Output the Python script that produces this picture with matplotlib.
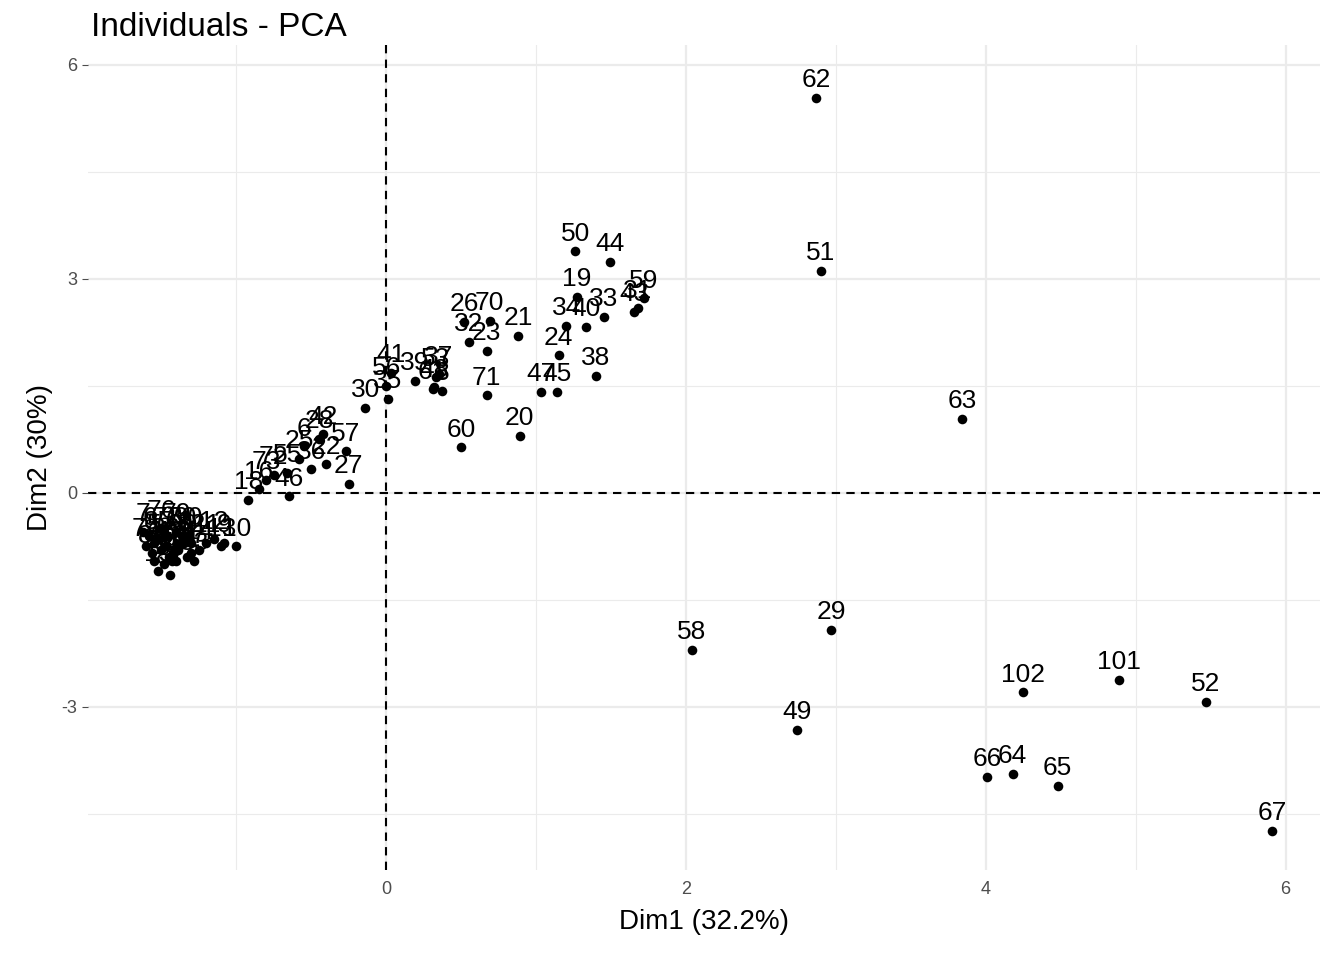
import matplotlib
matplotlib.use("Agg")
import matplotlib.pyplot as plt

plt.rcParams['font.family'] = ['Liberation Sans', 'DejaVu Sans']

labels = ["62","51","63","29","58","49","102","101","52","66","64","65","67",
          "50","44","19","59","33","43","31","34","40","21","26","70","32","23",
          "24","38","47","45","71","20","60","41","56","35","53","39","61","37","48","8",
          "30","42","28","57","27","22","36","6","25","73","72","16","18","46","55",
          "11","12","13","14","17","10","9","7","6","5","4","3","2","1","15","54","68","69",
          "74","75","76","77","78","79","80","81","82","83","84","85","86","87","88","89","90"]
dim1 = [2.87,2.90,3.84,2.97,2.04,2.74,4.25,4.89,5.47,4.01,4.18,4.48,5.91,
        1.26,1.49,1.27,1.72,1.45,1.65,1.68,1.20,1.33,0.88,0.52,0.69,0.55,0.67,
        1.15,1.40,1.03,1.14,0.67,0.89,0.50,0.03,0.00,0.01,0.33,0.19,0.31,0.35,0.32,0.37,
        -0.14,-0.42,-0.45,-0.27,-0.25,-0.40,-0.50,-0.55,-0.58,-0.80,-0.75,-0.85,-0.92,-0.65,-0.66,
        -1.20,-1.15,-1.10,-1.25,-1.30,-1.00,-1.08,-1.62,-1.58,-1.55,-1.50,-1.45,-1.40,-1.35,-1.52,-1.48,-1.42,-1.38,
        -1.60,-1.55,-1.50,-1.46,-1.43,-1.40,-1.36,-1.33,-1.30,-1.28,-1.56,-1.52,-1.47,-1.44,-1.39,-1.35,-1.32]
dim2 = [5.54,3.11,1.04,-1.92,-2.20,-3.32,-2.80,-2.62,-2.93,-3.98,-3.94,-4.11,-4.74,
        3.39,3.24,2.75,2.73,2.47,2.54,2.59,2.34,2.33,2.20,2.40,2.41,2.12,1.99,
        1.93,1.64,1.42,1.42,1.37,0.80,0.64,1.68,1.50,1.32,1.63,1.57,1.45,1.66,1.48,1.43,
        1.19,0.82,0.76,0.58,0.13,0.40,0.33,0.65,0.48,0.18,0.25,0.05,-0.10,-0.05,0.28,
        -0.70,-0.65,-0.75,-0.80,-0.85,-0.75,-0.70,-0.55,-0.60,-0.70,-0.80,-0.90,-0.95,-0.65,-1.10,-1.00,-0.85,-0.75,
        -0.75,-0.95,-0.50,-0.60,-0.95,-0.55,-0.60,-0.90,-0.70,-0.95,-0.85,-0.65,-0.75,-1.15,-0.80,-0.70,-0.60]

fig = plt.figure(figsize=(13.44,9.6), dpi=100)
ax = fig.add_axes([88/1344, 1-870/960, (1320-88)/1344, (870-45)/960])
ax.set_xlim(-1.99, 6.23)
ax.set_ylim(-5.29, 6.28)
for v in [-1,1,3,5]:
    ax.axvline(v, color="#ebebeb", lw=0.8, zorder=0)
for v in [0,2,4,6]:
    ax.axvline(v, color="#ebebeb", lw=1.6, zorder=0)
for v in [-4.5,-1.5,1.5,4.5]:
    ax.axhline(v, color="#ebebeb", lw=0.8, zorder=0)
for v in [-3,0,3,6]:
    ax.axhline(v, color="#ebebeb", lw=1.6, zorder=0)
ax.axhline(0, color="black", ls=(0,(4,3)), lw=1.5, zorder=1)
ax.axvline(0, color="black", ls=(0,(4,3)), lw=1.5, zorder=1)
ax.scatter(dim1, dim2, s=48, color="black", zorder=3, linewidths=0)
for x, y, t in zip(dim1, dim2, labels):
    ax.annotate(t, (x, y), xytext=(0, 4), textcoords="offset points",
                ha="center", va="bottom", fontsize=19, color="black", zorder=4)
ax.set_xticks([0,2,4,6]); ax.set_xticklabels(["0","2","4","6"])
ax.set_yticks([-3,0,3,6]); ax.set_yticklabels(["-3","0","3","6"])
ax.tick_params(axis="both", labelsize=13, colors="#4d4d4d", length=4)
ax.tick_params(axis="x", length=0, pad=8)
for s in ax.spines.values():
    s.set_visible(False)
ax.set_xlabel("Dim1 (32.2%)", fontsize=20, labelpad=8)
ax.set_ylabel("Dim2 (30%)", fontsize=20, labelpad=6)
fig.text(91/1344, 1-28/960, "Individuals - PCA", fontsize=24, va="center", ha="left")
fig.savefig("out.png", dpi=100)
